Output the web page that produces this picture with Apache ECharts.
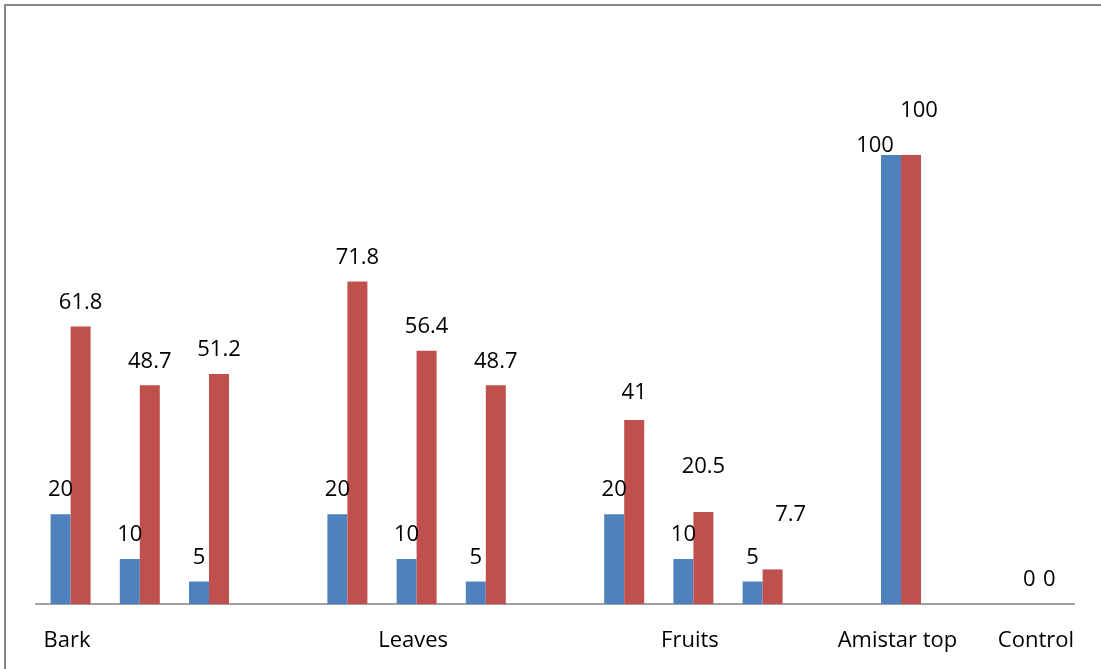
<!DOCTYPE html>
<html>
<head>
<meta charset="utf-8">
<script src="https://cdn.jsdelivr.net/npm/echarts@6/dist/echarts.min.js"></script>
<style>
  html, body { margin: 0; padding: 0; background: #fff; }
  #chart { width: 1101px; height: 669px; }
</style>
</head>
<body>
<div id="chart"></div>
<script>
const categories = ["Bark", "", "", "", "", "Leaves", "", "", "", "Fruits", "", "", "Amistar top", "", "Control"];
const blueValues = [20, 10, 5, null, 20, 10, 5, null, 20, 10, 5, null, 100, null, 0];
const redValues = [61.8, 48.7, 51.2, null, 71.8, 56.4, 48.7, null, 41, 20.5, 7.7, null, 100, null, 0];

// label nudges (index -> [dx, dy])
const blueNudge = { 12: [-16, 15] };
const redNudge = { 8: [0, -3], 9: [0, -21], 10: [18, -31], 12: [8, -20] };

const FONT = "'Open Sans', sans-serif";

const buildData = (values, nudge) =>
  values.map((v, i) => {
    const item = { value: v };
    if (nudge[i]) item.label = { offset: nudge[i] };
    return item;
  });

const makeSeries = (name, values, color, nudge) => ({
  name: name,
  type: "bar",
  barWidth: 20,
  barGap: "0%",
  itemStyle: { color: color },
  label: {
    show: true,
    position: "top",
    distance: 13,
    color: "#000",
    fontSize: 22,
    fontFamily: FONT,
  },
  data: buildData(values, nudge),
});

var chartDom = document.getElementById("chart");
var myChart = echarts.init(chartDom);
var option;

option = {
  animation: false,
  grid: { left: 36, right: 27, top: 155, bottom: 65 },
  xAxis: {
    type: "category",
    data: categories,
    axisLine: { lineStyle: { color: "#a0a0a0", width: 2 } },
    axisTick: { show: false },
    axisLabel: {
      interval: 0,
      margin: 26,
      padding: [0, 7, 0, 0],
      color: "#000",
      fontSize: 22,
      fontFamily: FONT,
    },
  },
  yAxis: {
    type: "value",
    min: 0,
    max: 100,
    show: false,
  },
  graphic: [
    {
      type: "polyline",
      shape: { points: [[5, 669], [5, 5], [1101, 5]] },
      style: { stroke: "#868686", lineWidth: 2, fill: null },
    },
  ],
  series: [
    makeSeries("blue", blueValues, "#4f81bd", blueNudge),
    makeSeries("red", redValues, "#c0504d", redNudge),
  ],
};

option && myChart.setOption(option);
</script>
</body>
</html>
